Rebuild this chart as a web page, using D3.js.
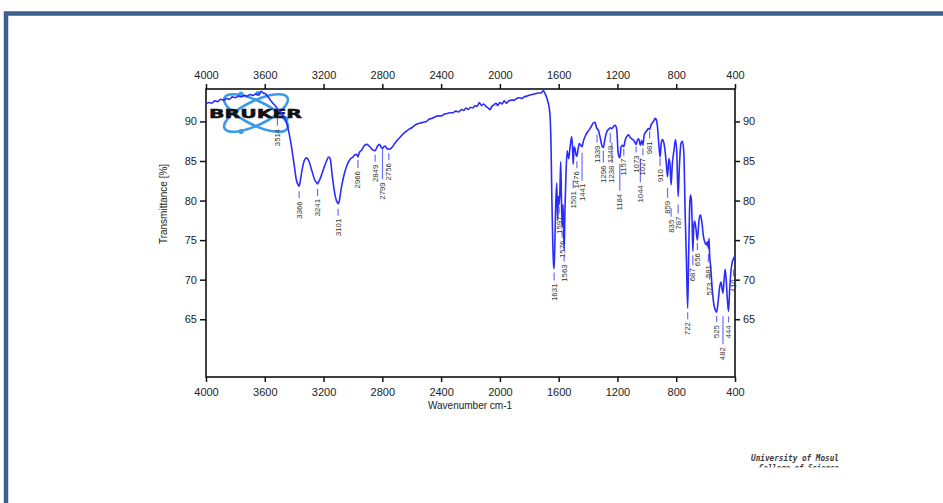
<!DOCTYPE html>
<html>
<head>
<meta charset="utf-8">
<script src="https://cdn.jsdelivr.net/npm/d3@7"></script>
<style>
  body { margin: 0; background: #fff; }
  svg { display: block; font-family: "Liberation Sans", Arial, sans-serif; }
</style>
</head>
<body>
<svg id="chart" width="943" height="503"></svg>
<script>
// FT-IR spectrum: wavenumber (cm-1) vs transmittance (%)
const wavenumbers = [
  4000, 3980, 3960, 3940, 3920, 3900, 3880, 3860, 3840, 3820, 3800, 3780, 3760, 3740, 3720, 3700,
  3680, 3660, 3640, 3625, 3610, 3595, 3570, 3545, 3525, 3514, 3500, 3480, 3460, 3440, 3420, 3400,
  3385, 3370, 3366, 3360, 3345, 3330, 3316, 3300, 3280, 3260, 3245, 3241, 3235, 3220, 3200, 3180,
  3165, 3155, 3140, 3120, 3105, 3101, 3095, 3080, 3060, 3040, 3020, 3000, 2985, 2972, 2966, 2958,
  2940, 2920, 2905, 2885, 2865, 2849, 2835, 2820, 2810, 2799, 2790, 2780, 2770, 2756, 2740, 2720,
  2700, 2680, 2660, 2640, 2620, 2600, 2580, 2560, 2540, 2520, 2500, 2480, 2460, 2440, 2420, 2400,
  2380, 2360, 2340, 2320, 2300, 2280, 2260, 2245, 2230, 2215, 2200, 2185, 2170, 2155, 2140, 2125,
  2110, 2095, 2080, 2067, 2055, 2040, 2025, 2015, 2000, 1985, 1970, 1955, 1940, 1920, 1900, 1886,
  1870, 1850, 1835, 1817, 1800, 1780, 1760, 1740, 1720, 1704, 1695, 1685, 1675, 1665, 1658, 1652,
  1646, 1640, 1635, 1631, 1626, 1620, 1613, 1607, 1602, 1597, 1592, 1586, 1581, 1576, 1570, 1563,
  1557, 1550, 1542, 1532, 1522, 1511, 1505, 1501, 1495, 1488, 1482, 1476, 1468, 1460, 1450, 1441,
  1432, 1415, 1398, 1380, 1365, 1352, 1345, 1339, 1330, 1318, 1305, 1296, 1285, 1270, 1260, 1249,
  1238, 1225, 1215, 1205, 1195, 1184, 1175, 1165, 1157, 1148, 1136, 1125, 1110, 1095, 1085, 1073,
  1065, 1055, 1044, 1035, 1027, 1018, 1010, 998, 989, 981, 970, 955, 943, 935, 928, 920,
  910, 902, 895, 887, 878, 868, 859, 850, 842, 835, 827, 815, 805, 796, 787, 778,
  768, 758, 748, 740, 730, 722, 715, 708, 703, 697, 692, 687, 681, 675, 666, 656,
  645, 635, 625, 615, 603, 595, 588, 581, 577, 573, 565, 555, 545, 535, 525, 515,
  505, 495, 489, 482, 475, 467, 460, 452, 444, 437, 428, 420, 410, 400
];
const transmittance = [
  92.2, 92.4, 92.3, 92.6, 92.5, 92.8, 92.7, 92.9, 92.8, 93.1, 93.0, 93.2, 93.1, 93.3, 93.2, 93.4,
  93.3, 93.5, 93.4, 93.8, 93.6, 93.5, 92.9, 92.3, 91.9, 91.6, 91.3, 90.9, 90.3, 89.0, 87.0, 84.5,
  82.6, 81.9, 81.8, 82.3, 84.0, 85.1, 85.4, 85.0, 83.8, 82.6, 82.2, 82.1, 82.3, 82.9, 84.0, 85.0,
  85.5, 85.3, 83.0, 80.5, 79.7, 79.6, 79.8, 81.5, 83.3, 84.5, 85.2, 85.5, 85.8, 85.8, 85.5, 86.0,
  86.4, 87.0, 87.1, 86.8, 86.4, 86.3, 86.8, 87.1, 86.8, 86.6, 86.8, 86.9, 86.6, 86.5, 86.6, 87.1,
  87.6, 88.0, 88.4, 88.7, 89.0, 89.2, 89.5, 89.7, 89.8, 89.9, 90.0, 90.3, 90.4, 90.6, 90.7, 90.7,
  90.9, 91.0, 91.1, 91.1, 91.3, 91.2, 91.5, 91.4, 91.7, 91.5, 91.8, 91.7, 92.0, 91.9, 92.4, 92.0,
  92.2, 91.9, 91.7, 91.5, 91.9, 92.1, 92.3, 92.0, 92.4, 92.2, 92.6, 92.3, 92.6, 92.7, 92.7, 92.9,
  93.0, 92.9, 93.1, 93.2, 93.3, 93.4, 93.5, 93.6, 93.6, 93.9, 93.6, 93.2, 92.6, 91.8, 90.5, 87.0,
  80.0, 74.5, 72.0, 71.4, 74.5, 79.5, 82.2, 77.5, 80.5, 79.5, 81.0, 84.9, 80.0, 76.7, 79.5, 73.7,
  79.0, 83.5, 86.3, 85.3, 86.8, 88.1, 86.5, 84.6, 86.8, 86.5, 85.8, 85.6, 86.5, 87.2, 87.0, 86.8,
  87.5, 88.3, 88.8, 89.3, 89.8, 89.9, 89.4, 89.1, 88.9, 88.0, 86.9, 86.7, 87.8, 88.8, 89.0, 89.2,
  89.1, 89.4, 89.5, 89.0, 86.0, 85.4, 86.8, 87.0, 86.8, 87.6, 88.1, 88.3, 87.9, 87.7, 87.5, 87.1,
  87.6, 87.8, 87.0, 87.6, 87.0, 88.3, 88.6, 88.9, 89.1, 89.0, 89.6, 90.0, 90.4, 90.2, 89.4, 87.5,
  85.5, 87.2, 87.7, 87.5, 86.6, 84.8, 83.0, 85.3, 84.5, 82.0, 84.5, 86.4, 87.7, 86.0, 80.5, 84.5,
  87.2, 87.5, 86.0, 79.0, 72.0, 66.4, 73.5, 79.5, 80.7, 80.1, 77.5, 73.6, 76.5, 77.4, 76.5, 75.0,
  77.5, 78.2, 77.2, 75.5, 74.6, 74.4, 74.8, 74.0, 75.2, 73.3, 71.5, 68.8, 67.0, 66.2, 65.9, 67.2,
  69.0, 69.7, 69.0, 68.3, 69.8, 71.3, 70.0, 67.5, 66.0, 68.5, 71.0, 72.1, 72.7, 73.0
];
// Annotated band positions (cm-1)
const peakLabels = [
  3514, 3366, 3241, 3101, 2966, 2849, 2799, 2756, 1631, 1597, 1576, 1563, 1501, 1476, 1441,
  1339, 1296, 1249, 1238, 1184, 1157, 1073, 1044, 1027, 981, 910, 859, 835, 787, 722, 687,
  656, 581, 573, 525, 482, 444, 410
];
const xTicks = [4000, 3600, 3200, 2800, 2400, 2000, 1600, 1200, 800, 400];
const yTicks = [65, 70, 75, 80, 85, 90];

// Label leader layout: [gap below curve, leader length] in px
const leaderLayout = {
  3514: [9, 8], 3366: [5, 7], 3241: [5, 7], 3101: [5, 7], 2966: [3, 8], 2849: [4, 7],
  2799: [1, 30], 2756: [4, 7], 1631: [4, 8], 1597: [2, 7], 1576: [4, 7], 1563: [5, 6],
  1501: [16, 8], 1476: [5, 7], 1441: [6, 28], 1339: [6, 8], 1296: [3, 12], 1249: [5, 10],
  1238: [14, 20], 1184: [6, 27], 1157: [2, 7], 1073: [2, 6], 1044: [14, 23], 1027: [3, 7],
  981: [2, 7], 910: [1, 8], 859: [11, 10], 835: [23, 9], 787: [8, 9], 722: [4, 7],
  687: [4, 10], 656: [3, 7], 581: [6, 8], 573: [21, 5], 525: [4, 6], 482: [23, 28],
  444: [5, 6], 410: [11, 7]
};

const svg = d3.select("#chart");

// Page frame
svg.append("path")
  .attr("d", "M6,980 L6,13.5 L960,13.5")
  .attr("fill", "none")
  .attr("stroke", "#3f5f8b")
  .attr("stroke-width", 4.5);

const x = d3.scaleLinear().domain([4000, 400]).range([206, 735]);
const y = d3.scaleLinear().domain([57.7, 94.1]).range([377, 89]);

// Bruker logo
const logo = svg.append("g").attr("transform", "translate(256,113)");
[-26, 26].forEach(a => {
  logo.append("ellipse")
    .attr("rx", 35).attr("ry", 12)
    .attr("transform", `rotate(${a})`)
    .attr("fill", "none")
    .attr("stroke", "#3b9be8")
    .attr("stroke-width", 2.6);
});
[[-15, -19], [2, -19.5], [-15, 18.5], [30, 6]].forEach(([cx, cy]) => {
  logo.append("circle").attr("cx", cx).attr("cy", cy).attr("r", 2.6).attr("fill", "#3b9be8");
});
svg.append("text")
  .attr("x", 209).attr("y", 117.5)
  .attr("textLength", 93).attr("lengthAdjust", "spacingAndGlyphs")
  .attr("font-family", "'DejaVu Sans', sans-serif")
  .attr("font-weight", "bold")
  .attr("font-size", 12.5)
  .attr("fill", "#111")
  .attr("stroke", "#111").attr("stroke-width", 0.5)
  .text("BRUKER");

// Axes
function styleAxis(g) {
  g.select(".domain").remove();
  g.selectAll(".tick line").attr("stroke", "#111").attr("stroke-width", 1.5);
  g.selectAll(".tick text").attr("fill", "#222").attr("font-size", 11)
    .attr("font-family", "'Liberation Sans', Arial, sans-serif");
}
svg.append("g").attr("transform", "translate(0,377)")
  .call(d3.axisBottom(x).tickValues(xTicks).tickSize(5).tickPadding(6).tickFormat(d3.format("d")))
  .call(styleAxis);
svg.append("g").attr("transform", "translate(0,89)")
  .call(d3.axisTop(x).tickValues(xTicks).tickSize(5).tickPadding(5).tickFormat(d3.format("d")))
  .call(styleAxis);
svg.append("g").attr("transform", "translate(206,0)")
  .call(d3.axisLeft(y).tickValues(yTicks).tickSize(6).tickPadding(3))
  .call(styleAxis);
svg.append("g").attr("transform", "translate(735,0)")
  .call(d3.axisRight(y).tickValues(yTicks).tickSize(5).tickPadding(3))
  .call(styleAxis);

svg.append("rect")
  .attr("x", 206).attr("y", 89).attr("width", 529).attr("height", 288)
  .attr("fill", "none").attr("stroke", "#111").attr("stroke-width", 1.6);

// Axis titles
svg.append("text")
  .attr("transform", "translate(163,204) rotate(-90)")
  .attr("text-anchor", "middle").attr("dominant-baseline", "central")
  .attr("font-size", 10).attr("fill", "#222")
  .text("Transmittance [%]");
svg.append("text")
  .attr("x", 470).attr("y", 409)
  .attr("text-anchor", "middle")
  .attr("font-size", 10).attr("fill", "#222")
  .text("Wavenumber cm-1");

// Spectrum trace
const points = wavenumbers.map((w, i) => [w, transmittance[i]]);
svg.append("path")
  .datum(points)
  .attr("fill", "none")
  .attr("stroke", "#2b2bff")
  .attr("stroke-width", 1.6)
  .attr("stroke-linejoin", "round")
  .attr("d", d3.line().x(d => x(d[0])).y(d => y(d[1])).curve(d3.curveMonotoneX));

// Transmittance at a wavenumber (linear interpolation on the descending grid)
function valueAt(w) {
  for (let i = 0; i < wavenumbers.length - 1; i++) {
    const a = wavenumbers[i], b = wavenumbers[i + 1];
    if (w <= a && w >= b) {
      const t = (a - w) / (a - b);
      return transmittance[i] + t * (transmittance[i + 1] - transmittance[i]);
    }
  }
  return transmittance[transmittance.length - 1];
}

// Band annotations
const ann = svg.append("g");
peakLabels.forEach(w => {
  const [gap, len] = leaderLayout[w] || [4, 7];
  const px = x(w);
  const top = y(valueAt(w)) + gap;
  ann.append("line")
    .attr("x1", px).attr("x2", px)
    .attr("y1", top).attr("y2", top + len)
    .attr("stroke", "#6c6cff").attr("stroke-width", 1.2);
  ann.append("text")
    .attr("transform", `translate(${px},${top + len + 3}) rotate(-90)`)
    .attr("text-anchor", "end")
    .attr("dominant-baseline", "central")
    .attr("font-size", 7.8)
    .attr("fill", "#333")
    .text(String(w));
});

// Footer
svg.append("defs").append("clipPath").attr("id", "footClip")
  .append("rect").attr("x", 700).attr("y", 440).attr("width", 200).attr("height", 27.5);
const foot = svg.append("g").attr("clip-path", "url(#footClip)")
  .attr("font-family", "'DejaVu Sans Mono', monospace")
  .attr("font-style", "italic").attr("font-weight", "bold")
  .attr("font-size", 8.5).attr("fill", "#3a3a3a");
foot.append("text").attr("x", 751).attr("y", 461)
  .attr("textLength", 88).attr("lengthAdjust", "spacingAndGlyphs")
  .text("University of Mosul");
foot.append("text").attr("x", 759).attr("y", 471)
  .attr("textLength", 80).attr("lengthAdjust", "spacingAndGlyphs")
  .text("College of Science");
</script>
</body>
</html>
